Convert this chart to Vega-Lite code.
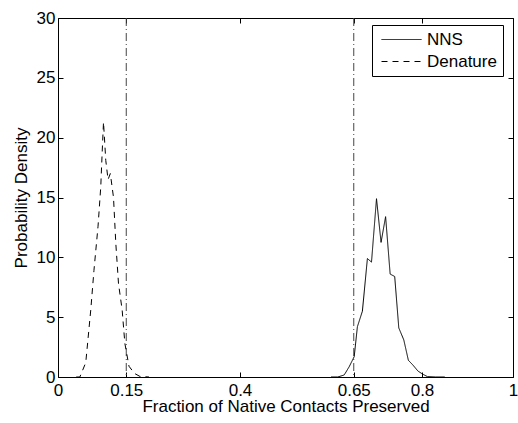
{
  "$schema": "https://vega.github.io/schema/vega-lite/v6.json",
  "width": 455,
  "height": 359,
  "autosize": {"type": "none"},
  "padding": {"left": 58, "top": 18, "right": 5, "bottom": 46},
  "background": "white",
  "config": {
    "view": {"stroke": "black", "strokeWidth": 1},
    "font": "Liberation Sans",
    "axis": {
      "domain": false,
      "grid": false,
      "tickColor": "black",
      "tickSize": -5,
      "labelFont": "Liberation Sans",
      "labelFontSize": 17,
      "labelColor": "black",
      "titleFont": "Liberation Sans",
      "titleFontSize": 17,
      "titleFontWeight": "normal",
      "titleColor": "black"
    }
  },
  "datasets": {
    "curves": [
      {"series": "Denature", "x": 0.040, "y": 0},
      {"series": "Denature", "x": 0.048, "y": 0},
      {"series": "Denature", "x": 0.061, "y": 1.2},
      {"series": "Denature", "x": 0.072, "y": 5.6},
      {"series": "Denature", "x": 0.079, "y": 8.9},
      {"series": "Denature", "x": 0.088, "y": 12.6},
      {"series": "Denature", "x": 0.094, "y": 15.9},
      {"series": "Denature", "x": 0.097, "y": 18.7},
      {"series": "Denature", "x": 0.100, "y": 21.3},
      {"series": "Denature", "x": 0.105, "y": 18.1},
      {"series": "Denature", "x": 0.110, "y": 16.5},
      {"series": "Denature", "x": 0.115, "y": 17.0},
      {"series": "Denature", "x": 0.122, "y": 15.0},
      {"series": "Denature", "x": 0.127, "y": 11.2},
      {"series": "Denature", "x": 0.133, "y": 7.8},
      {"series": "Denature", "x": 0.141, "y": 5.6},
      {"series": "Denature", "x": 0.147, "y": 2.8},
      {"series": "Denature", "x": 0.156, "y": 0.9},
      {"series": "Denature", "x": 0.168, "y": 0.3},
      {"series": "Denature", "x": 0.180, "y": 0.05},
      {"series": "Denature", "x": 0.200, "y": 0},
      {"series": "NNS", "x": 0.600, "y": 0},
      {"series": "NNS", "x": 0.615, "y": 0},
      {"series": "NNS", "x": 0.629, "y": 0.17},
      {"series": "NNS", "x": 0.640, "y": 0.86},
      {"series": "NNS", "x": 0.651, "y": 1.7},
      {"series": "NNS", "x": 0.658, "y": 4.2},
      {"series": "NNS", "x": 0.669, "y": 5.5},
      {"series": "NNS", "x": 0.680, "y": 9.9},
      {"series": "NNS", "x": 0.689, "y": 9.6},
      {"series": "NNS", "x": 0.700, "y": 14.9},
      {"series": "NNS", "x": 0.710, "y": 11.25},
      {"series": "NNS", "x": 0.720, "y": 13.4},
      {"series": "NNS", "x": 0.730, "y": 8.6},
      {"series": "NNS", "x": 0.740, "y": 8.4},
      {"series": "NNS", "x": 0.749, "y": 4.1},
      {"series": "NNS", "x": 0.760, "y": 3.1},
      {"series": "NNS", "x": 0.770, "y": 1.4},
      {"series": "NNS", "x": 0.780, "y": 1.0},
      {"series": "NNS", "x": 0.791, "y": 0.5},
      {"series": "NNS", "x": 0.801, "y": 0.25},
      {"series": "NNS", "x": 0.812, "y": 0.03},
      {"series": "NNS", "x": 0.830, "y": 0},
      {"series": "NNS", "x": 0.850, "y": 0}
    ],
    "thresholds": [{"x": 0.15}, {"x": 0.65}]
  },
  "layer": [
    {
      "data": {"name": "thresholds"},
      "mark": {"type": "rule", "stroke": "#444", "strokeWidth": 1, "strokeDash": [8, 3, 1, 3]},
      "encoding": {
        "x": {"field": "x", "type": "quantitative", "scale": {"domain": [0, 1], "nice": false, "zero": false}, "axis": null}
      }
    },
    {
      "data": {"name": "curves"},
      "mark": {"type": "line", "stroke": "black", "strokeWidth": 1},
      "encoding": {
        "x": {
          "field": "x", "type": "quantitative",
          "scale": {"domain": [0, 1], "nice": false, "zero": false},
          "axis": {"orient": "bottom", "values": [0, 0.15, 0.4, 0.65, 0.8, 1], "labelExpr": "datum.value + ''", "labelPadding": 10, "title": "Fraction of Native Contacts Preserved", "titlePadding": 0, "labelFlush": false}
        },
        "y": {
          "field": "y", "type": "quantitative",
          "scale": {"domain": [0, 30], "nice": false},
          "axis": {"orient": "left", "values": [0, 5, 10, 15, 20, 25, 30], "labelPadding": 8, "title": "Probability Density", "titlePadding": 6}
        },
        "strokeDash": {
          "field": "series", "type": "nominal",
          "scale": {"domain": ["NNS", "Denature"], "range": [[1, 0], [6, 5]]},
          "legend": {
            "title": null,
            "orient": "none",
            "legendX": 314,
            "legendY": 7,
            "strokeColor": "black",
            "fillColor": "white",
            "padding": 6,
            "symbolType": "M-1,0H7",
            "symbolSize": 100,
            "symbolStrokeColor": "black",
            "symbolStrokeWidth": 1,
            "labelFont": "Liberation Sans",
            "labelFontSize": 17,
            "labelColor": "black",
            "labelOffset": 32,
            "rowPadding": 4
          }
        },
        "detail": {"field": "series"}
      }
    },
    {
      "data": {"name": "curves"},
      "mark": {"type": "point", "opacity": 0},
      "encoding": {
        "x": {
          "field": "x", "type": "quantitative",
          "scale": {"domain": [0, 1], "nice": false, "zero": false},
          "axis": {"orient": "top", "values": [0, 0.15, 0.4, 0.65, 0.8, 1], "labels": false, "title": null}
        },
        "y": {
          "field": "y", "type": "quantitative",
          "scale": {"domain": [0, 30], "nice": false},
          "axis": {"orient": "right", "values": [0, 5, 10, 15, 20, 25, 30], "labels": false, "title": null}
        }
      }
    }
  ],
  "resolve": {"axis": {"x": "independent", "y": "independent"}}
}
